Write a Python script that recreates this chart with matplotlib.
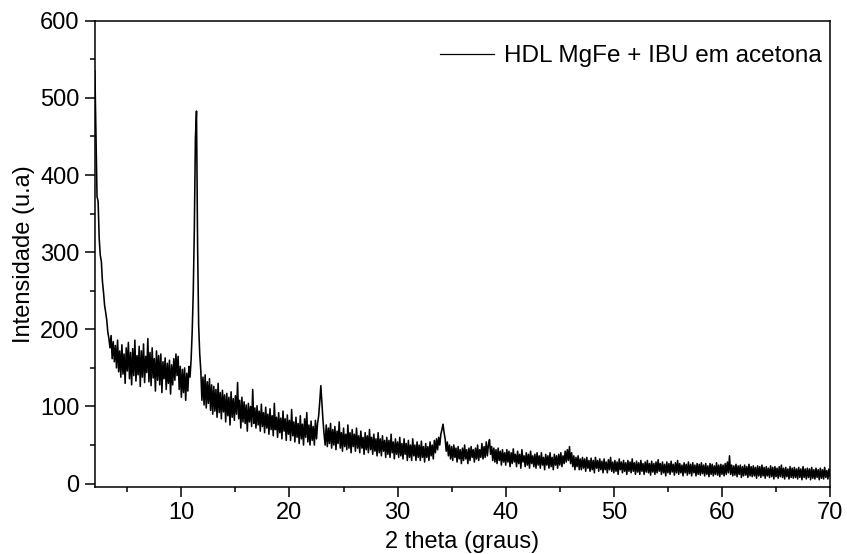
import numpy as np
import matplotlib
matplotlib.use("Agg")
import matplotlib.pyplot as plt
from matplotlib.ticker import MultipleLocator

plt.rcParams['font.family'] = ['Liberation Sans', 'DejaVu Sans']

# Difratograma: passo de 0.1 grau, de 2 a 70 graus
step = 0.1
start = 2.0
intensity = [
    535, 452, 372, 366, 318, 296, 288, 262, 248, 231,   # 2
    222, 212, 196, 188, 176, 192, 162, 184, 158, 179,   # 3
    150, 186, 145, 172, 138, 180, 142, 168, 130, 176,   # 4
    146, 183, 136, 170, 128, 175, 140, 186, 133, 166,   # 5
    141, 178, 126, 172, 138, 181, 131, 165, 144, 188,   # 6
    132, 170, 127, 176, 137, 162, 120, 172, 134, 166,   # 7
    128, 168, 118, 158, 136, 163, 122, 156, 130, 160,   # 8
    116, 154, 128, 162, 134, 168, 140, 165, 122, 152,   # 9
    112, 148, 118, 150, 108, 143, 120, 152, 138, 160,   # 10
    196, 248, 330, 448, 483, 310, 205, 168, 146, 108,   # 11
    138, 102, 141, 98, 132, 104, 136, 95, 128, 90,      # 12
    126, 94, 122, 86, 130, 92, 118, 84, 121, 93,        # 13
    115, 80, 117, 88, 112, 76, 119, 86, 110, 82,        # 14
    114, 90, 131, 84, 108, 72, 112, 80, 106, 78,        # 15
    102, 68, 104, 80, 100, 74, 122, 78, 98, 72,         # 16
    101, 76, 94, 68, 103, 74, 92, 66, 99, 72,           # 17
    90, 64, 97, 70, 88, 62, 104, 70, 86, 60,            # 18
    92, 66, 85, 58, 94, 68, 84, 56, 89, 64,             # 19
    82, 56, 96, 62, 80, 54, 86, 60, 78, 52,             # 20
    88, 58, 77, 50, 84, 60, 92, 54, 76, 50,             # 21
    81, 56, 74, 50, 82, 58, 78, 88, 106, 127,           # 22
    104, 82, 64, 50, 76, 48, 72, 52, 78, 46,            # 23
    70, 50, 74, 44, 68, 52, 80, 46, 66, 42,             # 24
    72, 48, 64, 44, 76, 46, 66, 40, 70, 48,             # 25
    64, 42, 72, 46, 62, 40, 68, 46, 60, 38,             # 26
    66, 44, 62, 40, 70, 44, 60, 38, 64, 42,             # 27
    58, 36, 66, 40, 58, 36, 62, 42, 56, 34,             # 28
    60, 38, 56, 34, 64, 40, 54, 32, 58, 38,             # 29
    54, 34, 60, 36, 52, 32, 58, 38, 52, 30,             # 30
    56, 34, 50, 30, 58, 36, 50, 30, 54, 34,             # 31
    50, 30, 55, 34, 48, 28, 52, 34, 48, 30,             # 32
    54, 36, 50, 32, 56, 40, 58, 44, 60, 50,             # 33
    64, 70, 77, 66, 58, 42, 54, 36, 50, 32,             # 34
    48, 30, 50, 34, 46, 28, 48, 32, 44, 26,             # 35
    46, 30, 50, 32, 44, 26, 46, 30, 48, 34,             # 36
    44, 28, 46, 32, 50, 30, 44, 34, 52, 32,             # 37
    48, 34, 54, 36, 50, 57, 38, 48, 30, 46,             # 38
    28, 44, 26, 46, 30, 42, 24, 44, 28, 40,             # 39
    24, 44, 28, 42, 22, 40, 26, 45, 28, 38,             # 40
    22, 42, 26, 38, 20, 44, 28, 36, 22, 40,             # 41
    24, 38, 20, 42, 26, 36, 22, 38, 20, 40,             # 42
    24, 36, 20, 40, 24, 34, 18, 38, 24, 36,             # 43
    20, 40, 22, 34, 18, 38, 24, 36, 20, 38,             # 44
    24, 40, 22, 36, 26, 42, 28, 44, 30, 48,             # 45
    26, 40, 22, 36, 18, 34, 22, 36, 18, 32,             # 46
    18, 34, 20, 32, 16, 34, 20, 30, 16, 33,             # 47
    18, 30, 14, 34, 20, 30, 16, 32, 18, 29,             # 48
    14, 32, 18, 28, 14, 31, 18, 34, 16, 28,             # 49
    14, 30, 16, 28, 12, 32, 18, 28, 14, 30,             # 50
    16, 27, 12, 30, 16, 28, 14, 32, 16, 27,             # 51
    12, 29, 15, 27, 12, 30, 16, 26, 12, 28,             # 52
    15, 30, 14, 26, 11, 29, 15, 26, 12, 28,             # 53
    14, 31, 16, 26, 12, 28, 14, 25, 10, 28,             # 54
    14, 26, 12, 29, 15, 25, 11, 27, 14, 30,             # 55
    12, 26, 14, 24, 10, 27, 14, 25, 11, 28,             # 56
    13, 25, 10, 27, 14, 24, 10, 26, 12, 25,             # 57
    11, 27, 13, 24, 10, 26, 12, 23, 9, 26,              # 58
    12, 25, 10, 23, 12, 27, 11, 24, 9, 25,              # 59
    12, 24, 10, 26, 12, 28, 14, 36, 12, 24,             # 60
    10, 23, 11, 25, 9, 23, 12, 24, 8, 22,               # 61
    10, 24, 11, 22, 8, 25, 10, 22, 9, 23,               # 62
    10, 21, 7, 23, 10, 22, 8, 24, 10, 21,               # 63
    7, 22, 10, 20, 8, 23, 9, 21, 6, 22,                 # 64
    9, 20, 7, 22, 9, 24, 8, 20, 6, 21,                  # 65
    9, 19, 6, 22, 8, 20, 7, 21, 8, 19,                  # 66
    6, 21, 8, 19, 5, 22, 8, 19, 6, 20,                  # 67
    8, 19, 5, 21, 7, 18, 6, 20, 8, 18,                  # 68
    5, 20, 7, 18, 6, 21, 8, 17, 6, 19,                  # 69
    10,                                                 # 70
]
two_theta = start + step * np.arange(len(intensity))

serie_label = "HDL MgFe + IBU em acetona"
x_label = "2 theta (graus)"
y_label = "Intensidade (u.a)"

fig = plt.figure(figsize=(8.47, 5.54), dpi=100)
ax = fig.add_axes([0.112, 0.1215, 0.868, 0.841])

ax.plot(two_theta, intensity, color="black", lw=1.15, label=serie_label)

ax.set_xlim(2, 70)
ax.set_ylim(-4, 600)
ax.xaxis.set_major_locator(MultipleLocator(10))
ax.xaxis.set_minor_locator(MultipleLocator(5))
ax.yaxis.set_major_locator(MultipleLocator(100))
ax.yaxis.set_minor_locator(MultipleLocator(50))

ax.tick_params(which="major", direction="out", length=7, width=1.1, labelsize=17, pad=4)
ax.tick_params(which="minor", direction="out", length=3.5, width=1.1)
for s in ax.spines.values():
    s.set_linewidth(1.1)

ax.set_xlabel(x_label, fontsize=17, labelpad=5)
ax.set_ylabel(y_label, fontsize=17, labelpad=4)

leg = ax.legend(loc="upper right", bbox_to_anchor=(1.005, 0.974), frameon=False,
                fontsize=17.5, handlelength=2.2, handletextpad=0.42,
                borderaxespad=0.2, borderpad=0.3)
for h in leg.get_lines():
    h.set_linewidth(0.9)

fig.savefig("out.png", dpi=100)
